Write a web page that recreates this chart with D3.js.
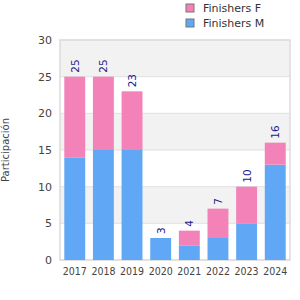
<!DOCTYPE html>
<html>
<head>
<meta charset="utf-8">
<script src="https://d3js.org/d3.v7.min.js"></script>
<style>
    body {margin: 0; background: #fff;}
    svg text {font-family: "DejaVu Sans", sans-serif;}
    .tick text {fill: #444; font-size: 11px;}
    .x-axis .tick text {font-family: "DejaVu Sans Condensed", "DejaVu Sans", sans-serif; font-size: 10.5px;}
    .tick line {display: none;}
    .domain {display: none;}
</style>
</head>
<body>
<div id="chart"></div>
<script>
    let years = ["2017", "2018", "2019", "2020", "2021", "2022", "2023", "2024"];
    let finishersM = [14, 15, 15, 3, 2, 3, 5, 13];
    let finishersF = [11, 10, 8, 0, 2, 4, 5, 3];
    let totals = [25, 25, 23, 3, 4, 7, 10, 16];
    let seriesNames = ["Finishers F", "Finishers M"];
    let seriesColors = ["#f282b8", "#60a8f5"];
    let yTicks = [0, 5, 10, 15, 20, 25, 30];

    let margin = {top: 40, right: 10, bottom: 40, left: 60},
        width = 300 - margin.left - margin.right,
        height = 300 - margin.top - margin.bottom;

    let svg = d3.select("#chart").append("svg")
        .attr("width", 300)
        .attr("height", 300);

    let g = svg.append("g")
        .attr("transform", "translate(" + margin.left + "," + margin.top + ")");

    let x = d3.scaleBand()
        .domain(years)
        .range([0, width])
        .paddingInner(0.27)
        .paddingOuter(0.15);

    let y = d3.scaleLinear()
        .domain([0, 30])
        .range([height, 0]);

    // alternating bands
    for (let i = 0; i < yTicks.length - 1; i++) {
        g.append("rect")
            .attr("x", 0)
            .attr("width", width)
            .attr("y", y(yTicks[i + 1]))
            .attr("height", y(yTicks[i]) - y(yTicks[i + 1]))
            .style("fill", i % 2 === 1 ? "#f2f2f2" : "#fff");
    }

    g.selectAll(".grid")
        .data(yTicks)
        .enter().append("line")
        .attr("x1", 0).attr("x2", width)
        .attr("y1", d => y(d)).attr("y2", d => y(d))
        .style("stroke", "#e0e0e0");

    g.append("rect")
        .attr("width", width)
        .attr("height", height)
        .style("fill", "none")
        .style("stroke", "#dcdcdc")
        .style("stroke-width", 1.5);

    let data = years.map((d, i) => ({year: d, m: finishersM[i], f: finishersF[i], total: totals[i]}));

    g.selectAll(".barM")
        .data(data)
        .enter().append("rect")
        .attr("x", d => x(d.year))
        .attr("width", x.bandwidth())
        .attr("y", d => y(d.m))
        .attr("height", d => height - y(d.m))
        .style("fill", seriesColors[1]);

    g.selectAll(".barF")
        .data(data.filter(d => d.f > 0))
        .enter().append("rect")
        .attr("x", d => x(d.year))
        .attr("width", x.bandwidth())
        .attr("y", d => y(d.m + d.f))
        .attr("height", d => y(d.m) - y(d.m + d.f))
        .style("fill", seriesColors[0]);

    g.selectAll(".total")
        .data(data)
        .enter().append("text")
        .attr("transform", d => "translate(" + (x(d.year) + x.bandwidth() / 2 + 4) + "," + (y(d.total) - 4) + ") rotate(-90)")
        .style("font-size", "10.5px")
        .style("fill", "#1a1a8c")
        .text(d => d.total);

    g.append("g")
        .attr("class", "x-axis")
        .attr("transform", "translate(0," + height + ")")
        .call(d3.axisBottom(x).tickSize(0).tickPadding(8));

    g.append("g")
        .call(d3.axisLeft(y).tickValues(yTicks).tickSize(0).tickPadding(8));

    svg.append("text")
        .attr("transform", "translate(9," + (margin.top + height / 2) + ") rotate(-90)")
        .style("text-anchor", "middle")
        .style("font-size", "10px")
        .style("fill", "#444")
        .text("Participación");

    let legend = svg.selectAll(".legend")
        .data(seriesNames)
        .enter().append("g")
        .attr("transform", (d, i) => "translate(186," + (4 + i * 15) + ")");

    legend.append("rect")
        .attr("width", 8).attr("height", 8)
        .style("fill", (d, i) => seriesColors[i])
        .style("stroke", "#777");

    legend.append("text")
        .attr("x", 17)
        .attr("y", 8)
        .style("font-size", "11px")
        .style("fill", "#333")
        .text(d => d);
</script>
</body>
</html>
